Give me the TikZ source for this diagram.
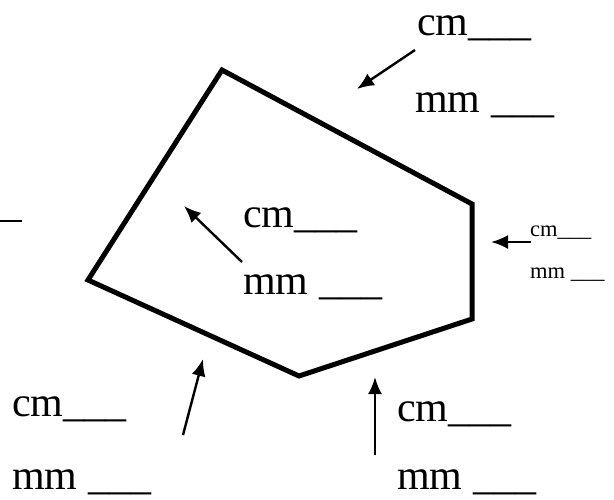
\documentclass[tikz,border=0pt]{standalone}
\usepackage{fontspec}
\setmainfont{Liberation Serif}
\usetikzlibrary{arrows.meta}
\begin{document}
\begin{tikzpicture}[x=1pt,y=-1pt,
  big/.style={anchor=base west,inner sep=0pt,font=\fontsize{42}{48}\selectfont},
  small/.style={anchor=base west,inner sep=0pt,font=\fontsize{22.5}{26}\selectfont},
  arr/.style={line width=2.4pt,-{Latex[length=17pt,width=14pt]}},
  polyline/.style={line width=5pt,line join=miter}]
\useasboundingbox (0,0) rectangle (614,499);
% pentagon
\coordinate (p1) at (222,70);
\coordinate (p2) at (472,204);
\coordinate (p3) at (472,319);
\coordinate (p4) at (299,376);
\coordinate (p5) at (88,280);
\draw[polyline] (p1) -- (p2) -- (p3) -- (p4) -- (p5) -- cycle;
% labels
\node[big] (tc) at (417,35) {cm\_\_\_};
\node[big] (tm) at (415,112) {mm \_\_\_};
\node[big] (mc) at (243,227) {cm\_\_\_};
\node[big] (mm) at (243,294) {mm \_\_\_};
\node[small] (rc) at (530,236) {cm\_\_\_};
\node[small] (rm) at (530,278) {mm \_\_\_};
\node[big] (lc) at (12,416) {cm\_\_\_};
\node[big] (lm) at (12,489) {mm \_\_\_};
\node[big] (bc) at (397,421) {cm\_\_\_};
\node[big] (bm) at (397,489) {mm \_\_\_};
% arrows
\coordinate (a1s) at (415,50); \coordinate (a1e) at (357,89);
\coordinate (a2s) at (242,262); \coordinate (a2e) at (184,206);
\coordinate (a3s) at (531,242); \coordinate (a3e) at (491,242);
\coordinate (a4s) at (183,435); \coordinate (a4e) at (203,359);
\coordinate (a5s) at (375,455); \coordinate (a5e) at (375,377);
\draw[arr] (a1s) -- (a1e);
\draw[arr] (a2s) -- (a2e);
\draw[arr] (a3s) -- (a3e);
\draw[arr] (a4s) -- (a4e);
\draw[arr] (a5s) -- (a5e);
% stray dash at left edge
\coordinate (d1) at (0,221); \coordinate (d2) at (22,221);
\draw[line width=2pt] (d1) -- (d2);
\end{tikzpicture}
\end{document}
